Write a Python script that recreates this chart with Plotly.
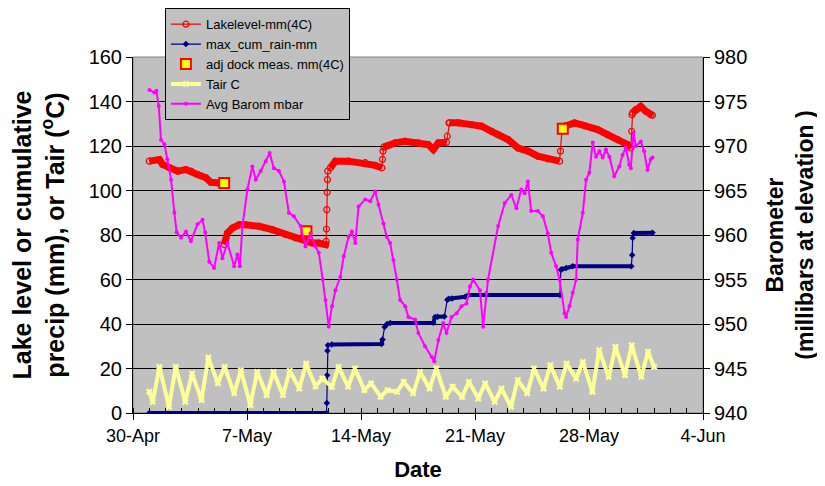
import pandas as pd
import plotly.graph_objects as go

BASE = pd.Timestamp("2007-04-30")

# ---------------- data (days since 30-Apr 00:00) ----------------
lake_day = [1.00, 1.62, 1.82, 2.23, 2.74, 3.25, 3.56, 3.96, 4.48, 4.78, 5.29, 5.45,
            5.60, 5.80, 6.10, 6.51, 6.92, 7.74, 8.55, 9.37, 9.98, 10.59, 11.00, 11.41,
            11.82, 11.86, 11.88, 11.90, 11.92, 11.94, 11.96, 12.12, 12.43, 13.24, 14.26,
            14.87, 15.28, 15.32, 15.35, 15.40, 15.58, 16.10, 16.71, 17.52, 18.13, 18.44,
            18.75, 19.25, 19.30, 19.40, 19.44, 19.97, 20.78, 21.40, 22.01, 22.42, 23.03,
            23.64, 24.25, 24.86, 25.47, 26.19, 26.25, 26.35, 26.50, 27.11, 27.72, 28.53,
            29.14, 29.76, 30.37, 30.57, 30.62, 30.64, 30.68, 30.87, 31.18, 31.49, 31.79, 31.90]
lake_mm = [113.2, 113.9, 111.7, 110.2, 108.7, 109.4, 108.7, 107.2, 105.7, 103.7, 103.4, None,
           75.7, 80.9, 83.1, 84.6, 84.6, 83.9, 82.4, 80.2, 78.7, 77.6, 76.4, 76.4,
           75.7, 77.1, 82.7, 91.4, 99.2, 104.9, 108.7, 110.2, 113.2, 113.2, 112.5,
           111.3, 110.2, 114.0, 117.7, 119.5, 120.0, 121.4, 122.1, 121.4, 120.6, 118.4,
           121.4, 121.7, 124.4, 130.4, 130.4, 130.4, 129.6, 128.9, 126.6, 125.1, 122.9,
           119.1, 117.7, 115.4, 114.2, 113.2, 117.7, 127.8, 128.9, 130.4, 129.2, 127.4,
           125.1, 122.9, 120.6, 119.1, 126.6, 134.1, 135.0, 136.4, 137.8, 135.6, 134.1, 133.8]

rain_day = [1.00, 11.88, 11.90, 11.92, 11.94, 11.97, 12.20, 15.26, 15.32, 15.45, 15.60,
            15.80, 18.44, 18.55, 18.70, 19.12, 19.30, 19.40, 19.60, 20.40, 20.60, 26.22,
            26.27, 26.35, 26.60, 27.00, 30.60, 30.65, 30.68, 30.75, 31.90]
rain_mm = [0, 0, 4.5, 17, 28, 30.5, 30.8, 31.0, 33.0, 38.7, 40.0,
           40.4, 40.6, 43.2, 43.3, 43.4, 50.9, 51.3, 51.5, 52.2, 53.0, 53.0,
           64.4, 64.6, 65.2, 65.9, 66.0, 71.0, 78.6, 80.9, 81.0]

dock_day = [5.60, 10.65, 26.39]
dock_mm = [103.4, 81.7, 127.8]

# Tair: value at 1-May 00:00, daily minimum (~05:00) and maximum (~15:00) 1-May..31-May, value at 1-Jun 00:00
tair_start = 9.6
tair_min = [5.0, 2.8, 5.0, 5.8, 13.3, 8.8, 3.5, 8.0, 8.0, 11.0, 12.0, 11.8, 11.8, 10.3, 7.3, 9.5,
            8.8, 11.0, 7.3, 7.3, 6.5, 5.0, 2.8, 8.8, 11.0, 11.8, 15.5, 9.5, 16.2, 17.0, 16.2]
tair_max = [20.7, 20.7, 17.7, 25.0, 20.7, 19.2, 18.5, 18.5, 19.0, 22.2, 15.5, 20.7, 20.0, 13.3,
            10.3, 14.0, 18.5, 20.0, 11.8, 14.0, 13.3, 11.0, 14.8, 20.0, 21.5, 22.2, 23.0, 28.2,
            29.7, 30.5, 27.5]
tair_end = 20.7

baro_day = [1.01, 1.31, 1.44, 1.58, 1.72, 1.93, 2.11, 2.34, 2.54, 2.68, 2.95, 3.25, 3.56, 3.96,
            4.27, 4.43, 4.68, 4.98, 5.29, 5.49, 5.80, 6.21, 6.41, 6.56, 6.72, 7.02, 7.33, 7.54,
            7.84, 8.15, 8.39, 8.65, 8.96, 9.27, 9.57, 9.88, 10.29, 10.59, 10.90, 11.20, 11.41,
            11.65, 11.82, 12.02, 12.22, 12.43, 12.73, 12.94, 13.24, 13.44, 13.65, 13.85, 14.26,
            14.57, 14.87, 15.08, 15.38, 15.58, 15.79, 15.99, 16.20, 16.40, 16.71, 16.91, 17.32,
            17.52, 17.93, 18.34, 18.50, 18.75, 19.05, 19.25, 19.56, 19.87, 20.17, 20.48, 20.69,
            20.89, 21.30, 21.50, 21.70, 21.80, 22.42, 22.83, 23.23, 23.54, 23.84, 24.05, 24.25,
            24.45, 24.86, 25.17, 25.47, 25.68, 25.98, 26.19, 26.50, 26.59, 26.80, 27.00, 27.21,
            27.31, 27.62, 27.82, 28.02, 28.23, 28.43, 28.64, 28.84, 29.04, 29.25, 29.55, 29.86,
            30.06, 30.26, 30.47, 30.57, 30.73, 30.88, 31.18, 31.39, 31.59, 31.79, 31.90]
baro_mbar = [976.3, 976.0, 976.2, 974.5, 970.7, 970.2, 968.5, 966.2, 962.5, 960.3, 959.7, 960.4,
             959.3, 961.2, 961.7, 960.3, 957.0, 956.3, 959.1, 957.4, 959.1, 956.5, 957.8, 956.5,
             961.0, 965.1, 967.7, 966.2, 967.2, 968.3, 969.2, 967.5, 967.2, 966.0, 962.5, 962.1,
             961.0, 958.7, 960.2, 958.7, 958.0, 955.0, 952.7, 949.7, 952.0, 953.8, 955.3, 957.6,
             959.8, 960.4, 959.1, 963.2, 964.0, 963.8, 964.9, 963.4, 961.3, 959.8, 959.1, 957.2,
             955.0, 952.7, 952.0, 950.8, 950.5, 949.0, 947.5, 946.3, 945.8, 948.2, 950.1, 949.0,
             950.8, 951.2, 952.0, 952.3, 954.2, 955.0, 953.8, 949.7, 953.5, 955.0, 961.0, 963.6,
             964.5, 963.0, 965.1, 964.7, 966.0, 962.7, 962.7, 962.1, 960.2, 958.0, 956.5, 955.0,
             951.2, 950.8, 952.0, 953.5, 955.0, 959.5, 962.5, 966.2, 967.0, 970.4, 968.8, 969.4,
             968.7, 969.6, 968.8, 966.6, 967.7, 969.0, 969.8, 967.9, 967.5, 971.5, 970.0, 970.5,
             969.4, 967.3, 968.5, 968.7]

x_ticks = ["2007-04-30", "2007-05-07", "2007-05-14", "2007-05-21", "2007-05-28", "2007-06-04"]

# ---------------- helpers ----------------
def to_time(days):
    return [BASE + pd.Timedelta(days=d) for d in days]

def band(days, vals, max_rate):
    """Values for the thick band: drop points reached by a fast jump (those are drawn thin)."""
    out = []
    prev_d, prev_v = None, None
    for d, v in zip(days, vals):
        if v is None:
            out.append(None)
        elif prev_v is not None and abs(v - prev_v) / (d - prev_d) > max_rate:
            out.append(None)
        else:
            out.append(v)
        prev_d, prev_v = d, v
    return out

tair_day = [1.0]
tair_val = [tair_start]
for i in range(len(tair_min)):
    tair_day += [1 + i + 5 / 24, 1 + i + 15 / 24]
    tair_val += [tair_min[i], tair_max[i]]
tair_day.append(32.0)
tair_val.append(tair_end)

FONT = "Arial, Liberation Sans, sans-serif"
RED = "#FF0000"
NAVY = "#000080"
YEL = "#FFFF99"
MAG = "#FF00FF"

fig = go.Figure()

# lake level
fig.add_trace(go.Scatter(x=to_time(lake_day), y=band(lake_day, lake_mm, 40), mode="lines",
                         line=dict(color=RED, width=7), showlegend=False, hoverinfo="skip"))
fig.add_trace(go.Scatter(x=to_time(lake_day), y=lake_mm, mode="lines+markers", name="Lakelevel-mm(4C)",
                         line=dict(color=RED, width=1.2),
                         marker=dict(symbol="circle-open", size=6, color=RED, line=dict(width=1.2))))
# rain
fig.add_trace(go.Scatter(x=to_time(rain_day), y=band(rain_day, rain_mm, 40), mode="lines",
                         line=dict(color=NAVY, width=4), showlegend=False, hoverinfo="skip"))
fig.add_trace(go.Scatter(x=to_time(rain_day), y=rain_mm, mode="lines+markers", name="max_cum_rain-mm",
                         line=dict(color=NAVY, width=1.2),
                         marker=dict(symbol="diamond", size=5, color=NAVY)))
# dock measurements
fig.add_trace(go.Scatter(x=to_time(dock_day), y=dock_mm, mode="markers", name="adj dock meas. mm(4C)",
                         marker=dict(symbol="square", size=10, color="#FFFF00",
                                     line=dict(color=RED, width=2))))
# air temperature
fig.add_trace(go.Scatter(x=to_time(tair_day), y=tair_val, mode="lines+markers", name="Tair C",
                         line=dict(color=YEL, width=4),
                         marker=dict(symbol="x", size=6, color=YEL)))
# barometer
fig.add_trace(go.Scatter(x=to_time(baro_day), y=baro_mbar, mode="lines+markers", name="Avg Barom mbar",
                         yaxis="y2", line=dict(color=MAG, width=2),
                         marker=dict(symbol="circle", size=4, color=MAG)))

fig.add_shape(type="rect", xref="paper", yref="paper", x0=0, x1=1, y0=0, y1=1,
              line=dict(color="#808080", width=1), layer="below")

# page body has an 8 px margin, so the figure is 8 px smaller than the window
fig.update_layout(
    width=817, height=478,
    margin=dict(l=125, r=122, t=49, b=73, autoexpand=False),
    paper_bgcolor="white", plot_bgcolor="#C0C0C0",
    font=dict(family=FONT, color="black"),
    showlegend=True,
    legend=dict(x=0.056, y=1.137, xanchor="left", yanchor="top",
                bgcolor="#C0C0C0", bordercolor="black", borderwidth=1,
                font=dict(size=13, family=FONT), tracegroupgap=0, itemwidth=30),
    xaxis=dict(
        type="date", automargin=False,
        range=[x_ticks[0], x_ticks[-1]],
        tickvals=x_ticks, tickformat="%-d-%b",
        tickfont=dict(size=18),
        ticks="outside", ticklen=6, tickcolor="black",
        minor=dict(dtick=86400000, ticks="inside", ticklen=5, tickcolor="black", showgrid=False),
        showgrid=False, showline=True, linecolor="black", linewidth=1,
        zeroline=False,
        title=dict(text="<b>Date</b>", font=dict(size=22), standoff=17),
    ),
    yaxis=dict(
        range=[0, 160], dtick=20, automargin=False,
        tickfont=dict(size=20),
        ticks="outside", ticklen=6, tickcolor="black",
        showgrid=True, gridcolor="black", gridwidth=1,
        showline=True, linecolor="black", zeroline=False,
        title=dict(text="<b>Lake level or cumulative<br>precip (mm), or Tair (<sup>o</sup>C)</b>",
                   font=dict(size=25), standoff=20),
    ),
    yaxis2=dict(
        range=[940, 980], dtick=5, overlaying="y", side="right", automargin=False,
        tickfont=dict(size=20),
        ticks="outside", ticklen=6, tickcolor="black",
        showgrid=False, showline=True, linecolor="black", zeroline=False,
        title=dict(text="<b>Barometer<br>(millibars at elevation )</b>",
                   font=dict(size=23), standoff=20),
    ),
)

fig.write_html("out.html")
